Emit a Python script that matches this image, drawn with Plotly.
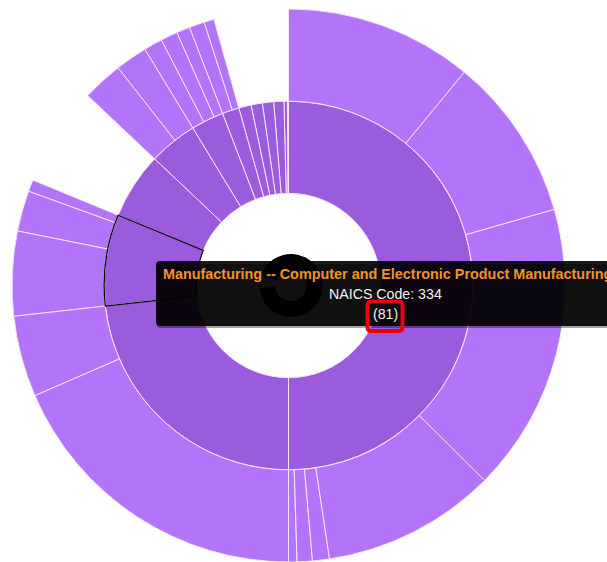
import plotly.graph_objects as go

W, H = 607, 562

# Inner ring, clockwise from 12 o'clock
ring_labels = ["A", "B", "334", "D", "E", "F", "G", "H", "I", "J", "K", "L", "M"]
ring_values = [506, 235, 81, 59, 43, 29, 15, 11, 10, 10, 9, 3, 1]

# Outer ring, clockwise from 12 o'clock
outer_parents = ["A"] * 7 + ["B"] * 2 + ["334"] * 3 + ["E"] * 2 + ["F"] * 3 + ["G"] * 2
outer_values = [111, 97, 171, 103, 10, 9, 5, 187, 48, 50, 24, 7, 24, 19, 11, 10, 8, 9, 6]

SELECTED = "334"
INNER = "#9A5BDD"
OUTER = "#B474F9"
LINE = "#F3E6FC"
CLEAR = "rgba(0,0,0,0)"

# plotly lays siblings out counter-clockwise, so feed them in reverse
ring_order = list(reversed(range(len(ring_labels))))
outer_order = list(reversed(range(len(outer_parents))))
r_labels = [ring_labels[i] for i in ring_order]
r_values = [ring_values[i] for i in ring_order]
o_parents = [outer_parents[i] for i in outer_order]
o_values = [outer_values[i] for i in outer_order]

ids = ["root"] + r_labels + [f"{p}-{i}" for i, p in enumerate(o_parents)]
labels = [""] + r_labels + [""] * len(o_parents)
parents = [""] + ["root"] * len(r_labels) + o_parents
values = [sum(r_values)] + r_values + o_values
colors = [CLEAR] + [INNER] * len(r_labels) + [OUTER] * len(o_parents)
line_colors = [CLEAR] + [LINE] * len(r_labels) + [LINE] * len(o_parents)
line_widths = [0] + [1] * (len(r_labels) + len(o_parents))

# outline of the selected sector, on top of its neighbours
sel_line_colors = ["black" if i == SELECTED else CLEAR for i in ids]
sel_line_widths = [1.2 if i == SELECTED else 0 for i in ids]

def px(x):
    return x / W

def py(y):
    return 1 - y / H

CX, CY, R = 288.5, 285.5, 276.5
domain = dict(x=[px(CX - R), px(CX + R)], y=[max(0, py(CY + R)), py(CY - R)])

fig = go.Figure()

# loading spinner behind the tooltip
SX, SY, SR = 291, 285.5, 31.5
fig.add_trace(go.Pie(
    values=[93, 7], hole=0.5, sort=False, direction="clockwise", rotation=-70,
    marker=dict(colors=["#000000", CLEAR], line=dict(width=0)),
    textinfo="none", hoverinfo="skip", showlegend=False,
    domain=dict(x=[px(SX - SR), px(SX + SR)], y=[py(SY + SR), py(SY - SR)]),
))

fig.add_trace(go.Sunburst(
    ids=ids, labels=labels, parents=parents, values=values,
    branchvalues="total", sort=False, rotation=90,
    marker=dict(colors=colors, line=dict(color=line_colors, width=line_widths)),
    leaf=dict(opacity=1),
    textinfo="none", hoverinfo="skip", domain=domain,
))

fig.add_trace(go.Sunburst(
    ids=ids, labels=labels, parents=parents, values=values,
    branchvalues="total", sort=False, rotation=90,
    marker=dict(colors=[CLEAR] * len(ids), line=dict(color=sel_line_colors, width=sel_line_widths)),
    leaf=dict(opacity=1),
    textinfo="none", hoverinfo="skip", domain=domain,
))

def rrect(x0, y0, x1, y1, r):
    return (f"M {px(x0 + r)} {py(y0)} L {px(x1 - r)} {py(y0)} Q {px(x1)} {py(y0)} {px(x1)} {py(y0 + r)} "
            f"L {px(x1)} {py(y1 - r)} Q {px(x1)} {py(y1)} {px(x1 - r)} {py(y1)} "
            f"L {px(x0 + r)} {py(y1)} Q {px(x0)} {py(y1)} {px(x0)} {py(y1 - r)} "
            f"L {px(x0)} {py(y0 + r)} Q {px(x0)} {py(y0)} {px(x0 + r)} {py(y0)} Z")

shapes = [
    dict(type="path", xref="paper", yref="paper", path=rrect(157, 264, 640, 328, 4),
         fillcolor="rgba(0,0,0,0.35)", line=dict(width=0)),
    dict(type="path", xref="paper", yref="paper", path=rrect(156, 261, 640, 326, 4),
         fillcolor="rgba(0,0,0,0.9)", line=dict(width=0)),
    dict(type="path", xref="paper", yref="paper", path=rrect(367.5, 301.5, 402.5, 331, 4),
         fillcolor=CLEAR, line=dict(color="#E8000F", width=4)),
]

FONT = "Liberation Sans, Arial, sans-serif"
annotations = [
    dict(text="<b>Manufacturing -- Computer and Electronic Product Manufacturing</b>",
         x=px(160.5), y=py(274), xref="paper", yref="paper", xanchor="left", yanchor="middle",
         showarrow=False, font=dict(family=FONT, size=14.4, color="#F0922B")),
    dict(text="NAICS Code: 334", x=px(385.5), y=py(294), xref="paper", yref="paper",
         xanchor="center", yanchor="middle", showarrow=False,
         font=dict(family=FONT, size=14.2, color="#F0F0F0")),
    dict(text="(81)", x=px(385.5), y=py(314), xref="paper", yref="paper",
         xanchor="center", yanchor="middle", showarrow=False,
         font=dict(family=FONT, size=14.2, color="#F0F0F0")),
]

fig.update_layout(
    width=W, height=H, margin=dict(l=0, r=0, t=0, b=0),
    paper_bgcolor="white", plot_bgcolor="white", showlegend=False,
    shapes=shapes, annotations=annotations,
)
fig.write_html("out.html", config=dict(displayModeBar=False),
               post_script="document.body.style.margin='0';")
